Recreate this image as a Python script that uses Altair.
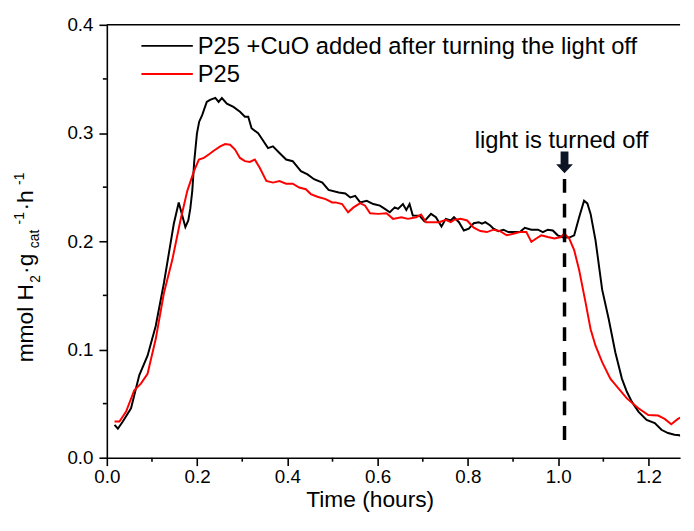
import altair as alt
import pandas as pd

# ---------------- data ----------------
series_names = ["P25 +CuO added after turning the light off", "P25"]

# P25 + CuO added after turning the light off (black)
cuo_t = [0.0171, 0.0245, 0.0354, 0.0536, 0.0718, 0.0902, 0.1083, 0.1265, 0.1374, 0.1484,
         0.1593, 0.174, 0.1805, 0.1849, 0.1893, 0.1937, 0.1996, 0.2046, 0.2112, 0.2214,
         0.2287, 0.2359, 0.2403, 0.2477, 0.2549, 0.2659, 0.2805, 0.295, 0.3059, 0.3133,
         0.3206, 0.3352, 0.3446, 0.3571, 0.368, 0.3825, 0.3972, 0.4118, 0.43, 0.4446,
         0.4591, 0.4775, 0.4912, 0.5138, 0.5284, 0.5394, 0.5503, 0.5613, 0.5759, 0.5904,
         0.605, 0.616, 0.6269, 0.6379, 0.6451, 0.656, 0.6635, 0.6707, 0.6779, 0.6926,
         0.7035, 0.7182, 0.7291, 0.7414, 0.751, 0.7619, 0.7691, 0.7801, 0.791, 0.802,
         0.8129, 0.8239, 0.8311, 0.8385, 0.8495, 0.8567, 0.8676, 0.8786, 0.8895, 0.9004,
         0.9151, 0.926, 0.9405, 0.9551, 0.9661, 0.977, 0.988, 0.9989, 1.0098, 1.0245,
         1.0354, 1.0464, 1.0573, 1.0646, 1.0718, 1.0827, 1.0974, 1.112, 1.1265, 1.1411,
         1.1521, 1.163, 1.1777, 1.1958, 1.214, 1.2287, 1.2433, 1.2578, 1.2687, 1.2796]
cuo_v = [0.0304, 0.0268, 0.0335, 0.0457, 0.0761, 0.0943, 0.1217, 0.1614, 0.1888, 0.2162,
         0.2359, 0.2131, 0.2192, 0.2301, 0.2466, 0.274, 0.2995, 0.3105, 0.3166, 0.3288,
         0.3306, 0.3318, 0.3324, 0.3288, 0.3324, 0.3272, 0.3242, 0.3196, 0.3151, 0.3151,
         0.3044, 0.2998, 0.2941, 0.2861, 0.2877, 0.2816, 0.2755, 0.274, 0.2648, 0.2618,
         0.2573, 0.2542, 0.2475, 0.245, 0.2441, 0.2405, 0.242, 0.2359, 0.2374, 0.2344,
         0.2329, 0.2299, 0.2268, 0.2313, 0.2299, 0.2344, 0.2289, 0.2344, 0.2237, 0.2237,
         0.2185, 0.2253, 0.2222, 0.2137, 0.2207, 0.2192, 0.2222, 0.2176, 0.21, 0.2116,
         0.2167, 0.2176, 0.2162, 0.2176, 0.2146, 0.2116, 0.2094, 0.2107, 0.2085, 0.2085,
         0.2085, 0.2125, 0.2107, 0.2107, 0.2085, 0.2107, 0.21, 0.2055, 0.2037, 0.2034,
         0.2055, 0.2222, 0.2374, 0.235, 0.2253, 0.2009, 0.1553, 0.1279, 0.0974, 0.0731,
         0.0609, 0.0518, 0.0426, 0.035, 0.032, 0.0258, 0.0228, 0.0213, 0.0207, 0.0183]

# P25 (red)
p25_t = [0.0171, 0.028, 0.0427, 0.0608, 0.0755, 0.0902, 0.1083, 0.1265, 0.1449, 0.163,
         0.1783, 0.193, 0.2039, 0.2149, 0.2258, 0.2368, 0.2512, 0.2621, 0.2731, 0.284,
         0.295, 0.3059, 0.3168, 0.3278, 0.3387, 0.3534, 0.368, 0.3825, 0.3972, 0.4118,
         0.4263, 0.4409, 0.4519, 0.4665, 0.4847, 0.4993, 0.5066, 0.5212, 0.5344, 0.5466,
         0.5613, 0.5722, 0.5832, 0.6013, 0.6197, 0.6341, 0.6525, 0.667, 0.6853, 0.6963,
         0.7072, 0.7217, 0.7363, 0.751, 0.7619, 0.7691, 0.7838, 0.7982, 0.8129, 0.8276,
         0.842, 0.8567, 0.8713, 0.8858, 0.9004, 0.9151, 0.9295, 0.9405, 0.9514, 0.9624,
         0.977, 0.9917, 1.0061, 1.0136, 1.0245, 1.0354, 1.0464, 1.0608, 1.0718, 1.0827,
         1.0974, 1.1155, 1.1339, 1.1521, 1.1777, 1.1996, 1.2214, 1.2359, 1.2505, 1.2652,
         1.2796]
p25_v = [0.0335, 0.0335, 0.0426, 0.0624, 0.0685, 0.0776, 0.1096, 0.1522, 0.1826, 0.2192,
         0.2466, 0.2648, 0.2755, 0.277, 0.2801, 0.2837, 0.2877, 0.2898, 0.2892, 0.2847,
         0.277, 0.274, 0.2733, 0.2755, 0.2679, 0.2557, 0.2542, 0.2557, 0.2532, 0.2532,
         0.2496, 0.2481, 0.2436, 0.2411, 0.239, 0.2359, 0.2359, 0.2344, 0.2268, 0.2313,
         0.2353, 0.2329, 0.2258, 0.2253, 0.2258, 0.2207, 0.2222, 0.2207, 0.2222, 0.2247,
         0.2176, 0.2176, 0.2176, 0.2198, 0.2176, 0.2198, 0.2207, 0.2192, 0.2125, 0.2094,
         0.2085, 0.2107, 0.2094, 0.2055, 0.207, 0.2085, 0.2085, 0.1994, 0.2025, 0.2055,
         0.2039, 0.2025, 0.2039, 0.207, 0.2025, 0.1918, 0.1735, 0.1431, 0.1187, 0.1035,
         0.0883, 0.0731, 0.0639, 0.0548, 0.0457, 0.0395, 0.039, 0.0359, 0.031, 0.0359,
         0.039]

x_ticks = [0.0, 0.2, 0.4, 0.6, 0.8, 1.0, 1.2]
x_minor = [0.1, 0.3, 0.5, 0.7, 0.9, 1.1]
y_ticks = [0.0, 0.1, 0.2, 0.3, 0.4]
y_minor = [0.05, 0.15, 0.25, 0.35]
x_domain = [0.0, 1.27]
y_domain = [0.0, 0.4]

light_off_t = 1.014
light_off_top = 0.2575
light_off_bottom = 0.0137
arrow_v = 0.273
annot_text = "light is turned off"
annot_t = 0.815
annot_v = 0.2861

# ---------------- chart ----------------
W, H = 580, 438
FONT = "Liberation Sans"
one = pd.DataFrame({"k": [0]})

df_cuo = pd.DataFrame({"t": cuo_t, "v": cuo_v})
df_p25 = pd.DataFrame({"t": p25_t, "v": p25_v})

xscale = alt.Scale(domain=x_domain, nice=False, zero=False)
yscale = alt.Scale(domain=y_domain, nice=False, zero=False)

x_axis = alt.Axis(
    values=x_ticks, format=".1f", grid=False,
    tickSize=8, tickWidth=1.6, tickColor="#000000",
    domainColor="#000000", domainWidth=1.6, labelFont=FONT, labelFontSize=19, labelColor="black",
    labelPadding=2, labelFlush=False, labelOverlap=False,
    title="Time (hours)", titleFont=FONT, titleFontSize=23, titleFontWeight="normal",
    titleColor="black", titleX=266, titleY=49, titleBaseline="alphabetic")
y_axis = alt.Axis(
    values=y_ticks, format=".1f", grid=False,
    tickSize=8, tickWidth=1.6, tickColor="#000000",
    domainColor="#000000", domainWidth=1.6, labelFont=FONT, labelFontSize=19, labelColor="black",
    labelPadding=6, labelFlush=False, labelOverlap=False, title=None)

X = alt.X("t:Q", scale=xscale, axis=x_axis)
Y = alt.Y("v:Q", scale=yscale, axis=y_axis)

line_cuo = alt.Chart(df_cuo).mark_line(color="#000000", strokeWidth=2, clip=True).encode(x=X, y=Y)
line_p25 = alt.Chart(df_p25).mark_line(color="#ff0000", strokeWidth=2, clip=True).encode(x=X, y=Y)

top_frame = alt.Chart(pd.DataFrame({"v": [y_domain[1]]})).mark_rule(
    color="#000000", strokeWidth=1.6).encode(y=Y)

xminor = alt.Chart(pd.DataFrame({"t": x_minor})).mark_rule(color="#000000", strokeWidth=1.6).encode(
    x=X, y=alt.value(H), y2=alt.value(H + 4))
yminor = alt.Chart(pd.DataFrame({"v": y_minor})).mark_rule(color="#000000", strokeWidth=1.6).encode(
    y=Y, x=alt.value(-4), x2=alt.value(0))

df_off = pd.DataFrame({"t": [light_off_t], "v": [light_off_top], "v2": [light_off_bottom]})
dashed = alt.Chart(df_off).mark_rule(color="black", strokeWidth=3.5, strokeDash=[14, 11]).encode(
    x=X, y=Y, y2="v2:Q")

arrow_path = "M-0.36,-1L0.36,-1L0.36,0.18L0.77,0.18L0,1L-0.77,0.18L-0.36,0.18Z"
arrow = alt.Chart(pd.DataFrame({"t": [light_off_t], "v": [arrow_v]})).mark_point(
    shape=arrow_path, filled=True, size=484, color="#0d1424", opacity=1).encode(
    x=X, y=Y)

annot = alt.Chart(pd.DataFrame({"t": [annot_t], "v": [annot_v]})).mark_text(
    text=annot_text, align="left", baseline="alphabetic",
    font=FONT, fontSize=24, color="black").encode(x=X, y=Y)

# legend (manual)
leg_line1 = alt.Chart(one).mark_rule(color="#000000", strokeWidth=2).encode(
    x=alt.value(35), x2=alt.value(87), y=alt.value(21.3))
leg_line2 = alt.Chart(one).mark_rule(color="#ff0000", strokeWidth=2).encode(
    x=alt.value(35), x2=alt.value(87), y=alt.value(49.7))
leg_text1 = alt.Chart(one).mark_text(text=series_names[0], align="left", baseline="alphabetic",
                                     font=FONT, fontSize=24, color="black").encode(
    x=alt.value(92), y=alt.value(29.7))
leg_text2 = alt.Chart(one).mark_text(text=series_names[1], align="left", baseline="alphabetic",
                                     font=FONT, fontSize=24, color="black").encode(
    x=alt.value(92), y=alt.value(58))

# y-axis title with sub/superscripts
ytitle_parts = [
    ("mmol H", -74.5, 341.5, 23),
    ("2", -67.5, 261, 14),
    ("\u00b7g", -74.5, 252, 23),
    ("cat", -68.5, 226, 14),
    ("-1", -83.5, 202, 14),
    ("\u00b7h", -74.5, 188, 23),
    ("-1", -83.5, 162, 14),
]
ytitle_layers = [
    alt.Chart(one).mark_text(text=s, angle=270, align="left", baseline="alphabetic",
                             font=FONT, fontSize=fs, color="black").encode(
        x=alt.value(px), y=alt.value(py))
    for s, px, py, fs in ytitle_parts
]

layered = alt.layer(
    line_cuo, line_p25, top_frame, xminor, yminor, dashed, arrow, annot,
    leg_line1, leg_line2, leg_text1, leg_text2, *ytitle_layers
).properties(width=W, height=H)

chart = alt.hconcat(layered, spacing=0).properties(background="white").configure_view(stroke=None)

chart.save("out.html", embed_options={"renderer": "svg", "actions": False})
